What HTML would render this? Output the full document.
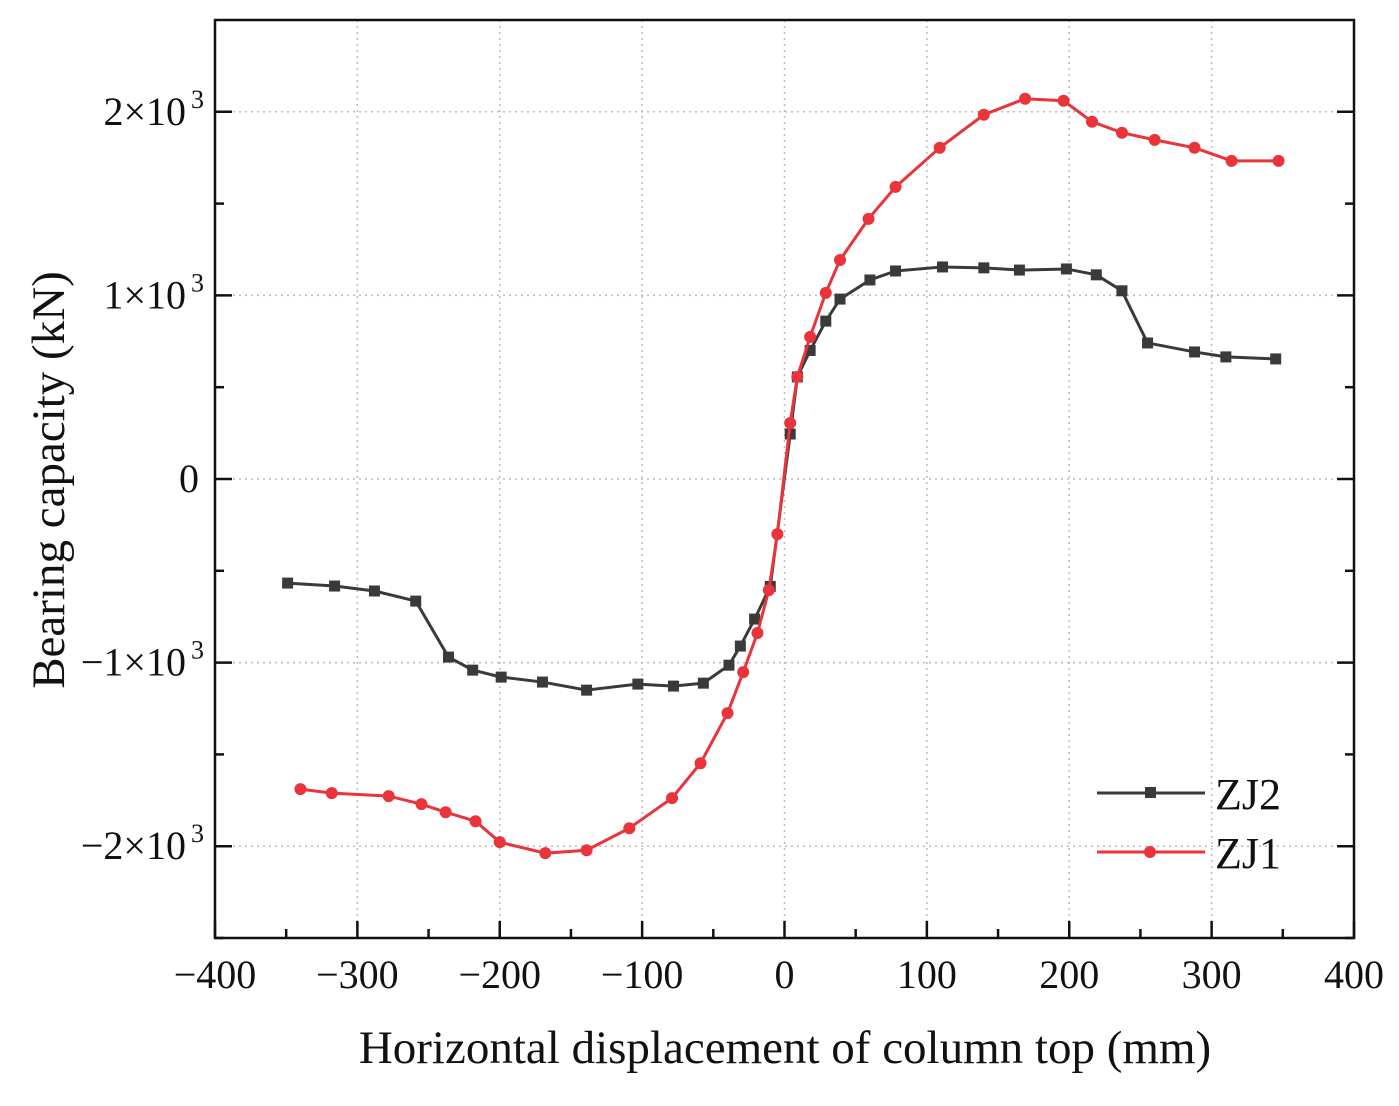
<!DOCTYPE html>
<html><head><meta charset="utf-8"><style>
body{margin:0;background:#fff;}
svg text{font-family:"Liberation Serif",serif;fill:#111;}
</style></head><body>
<svg id="chart" width="1399" height="1101">
<g id="grid"></g>
<g id="series"></g>
<g id="axes"></g>
<text x="785" y="1063" font-size="47" text-anchor="middle">Horizontal displacement of column top (mm)</text>
<text transform="translate(64,480) rotate(-90)" font-size="47" text-anchor="middle">Bearing capacity (kN)</text>
<g>
<g>
<line x1="1097" y1="793" x2="1205" y2="793" stroke="#3a3a3a" stroke-width="3"/>
<rect x="1145" y="787" width="11" height="11" fill="#3a3a3a"/>
<text x="1215" y="809" font-size="44">ZJ2</text></g>
<g>
<line x1="1097" y1="852" x2="1205" y2="852" stroke="#e8343a" stroke-width="3"/>
<circle cx="1150" cy="852" r="6" fill="#e8343a"/>
<text x="1215" y="868" font-size="44">ZJ1</text></g>
</g>
</svg>
<script>
const xTicks=[-400,-300,-200,-100,0,100,200,300,400];
const yTicks=[-2000,-1000,0,1000,2000];
const yTickLabels=["\u22122\u00d710","\u22121\u00d710","0","1\u00d710","2\u00d710"];
const zj2X=[-349,-316,-288,-259,-236,-219,-199,-170,-139,-103,-78,-57,-39,-31,-21,-10,4,9,18,29,39,60,78,111,140,165,198,219,237,255,288,310,345];
const zj2Y=[-567,-583,-610,-665,-970,-1041,-1079,-1106,-1150,-1117,-1128,-1112,-1014,-910,-763,-585,245,556,700,860,980,1084,1133,1155,1150,1138,1144,1112,1025,741,692,665,654];
const zj1X=[-340,-318,-278,-255,-238,-217,-200,-168,-139,-109,-79,-59,-40,-29,-19,-11,-5,4,9,18,29,39,59,78,109,140,169,196,216,237,260,288,314,347];
const zj1Y=[-1689,-1711,-1727,-1771,-1815,-1864,-1978,-2038,-2022,-1902,-1738,-1548,-1275,-1052,-839,-605,-300,305,556,774,1014,1193,1417,1591,1804,1984,2071,2060,1946,1886,1847,1804,1733,1733];
const L=215,R=1354,T=20,B=938;
const sx=v=>L+(v+400)/800*(R-L);
const sy=v=>B-(v+2500)/5000*(B-T);
const NS="http://www.w3.org/2000/svg";
function mk(tag,attrs,parent){const e=document.createElementNS(NS,tag);for(const k in attrs)e.setAttribute(k,attrs[k]);parent.appendChild(e);return e;}
const grid=document.getElementById('grid'),axes=document.getElementById('axes'),series=document.getElementById('series');
xTicks.forEach((t,i)=>{const x=sx(t);
 if(i>0&&i<xTicks.length-1){const g=mk('line',{x1:x,x2:x,y1:T,y2:B,stroke:'#bbb','stroke-width':1.5,'stroke-dasharray':'2,4'},grid);
 
 }
 mk('line',{x1:x,x2:x,y1:B,y2:B-17,stroke:'#111','stroke-width':2.5},axes);
 if(i<xTicks.length-1){const m=sx(t+50);mk('line',{x1:m,x2:m,y1:B,y2:B-9,stroke:'#111','stroke-width':2.5},axes);}
 const tx=mk('text',{x:x,y:988,'font-size':40,'text-anchor':'middle'},axes);tx.textContent=(t<0?'\u2212':'')+Math.abs(t);
 
 });
yTicks.forEach((t,i)=>{const y=sy(t);
 const g=mk('line',{x1:L,x2:R,y1:y,y2:y,stroke:'#bbb','stroke-width':1.5,'stroke-dasharray':'2,4'},grid);
 
 
 mk('line',{x1:L,x2:L+17,y1:y,y2:y,stroke:'#111','stroke-width':2.5},axes);
 mk('line',{x1:R,x2:R-17,y1:y,y2:y,stroke:'#111','stroke-width':2.5},axes);
 const tx=mk('text',{x:t===0?199:186,y:y+13,'font-size':40,'text-anchor':'end'},axes);tx.textContent=yTickLabels[i];
 
 
 if(t!==0){const s=mk('text',{x:204,y:y-4,'font-size':26,'text-anchor':'end'},axes);s.textContent='3';}});
[-2500,-1500,-500,500,1500].forEach(t=>{const y=sy(t);mk('line',{x1:L,x2:L+9,y1:y,y2:y,stroke:'#111','stroke-width':2.5},axes);mk('line',{x1:R,x2:R-9,y1:y,y2:y,stroke:'#111','stroke-width':2.5},axes);});
mk('rect',{x:L,y:T,width:R-L,height:B-T,fill:'none',stroke:'#111','stroke-width':2.5},axes);
function draw(xs,ys,color,marker,name){
 const g=mk('g',{},series);
 
 
 mk('polyline',{points:xs.map((x,i)=>sx(x)+','+sy(ys[i])).join(' '),fill:'none',stroke:color,'stroke-width':3},g);
 xs.forEach((x,i)=>{let m;
  if(marker==='sq')m=mk('rect',{x:sx(x)-5.5,y:sy(ys[i])-5.5,width:11,height:11,fill:color},g);
  else m=mk('circle',{cx:sx(x),cy:sy(ys[i]),r:6,fill:color},g);
  
  });
}
draw(zj2X,zj2Y,'#3a3a3a','sq','series-zj2');
draw(zj1X,zj1Y,'#e8343a','ci','series-zj1');
</script>
</body></html>
